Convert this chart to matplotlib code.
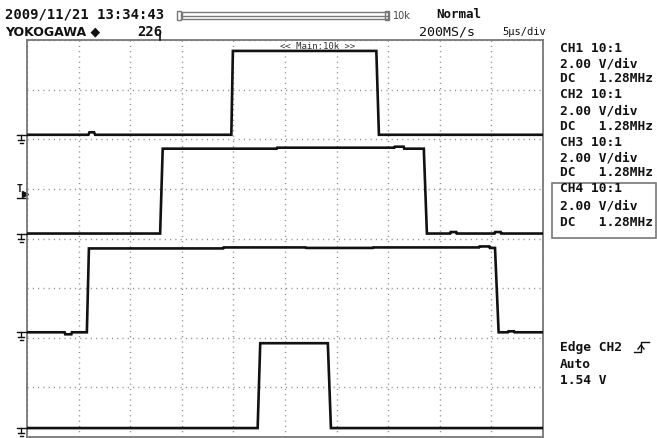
import matplotlib
import numpy as np

matplotlib.use("Agg")
import matplotlib.pyplot as plt
from matplotlib.lines import Line2D
from matplotlib.patches import Rectangle

W, H = 657, 438

# time axis: 5 us/div, 10 div ; vertical axis in divisions (8 div)
T_SPAN = 50.0
N_DIV_Y = 8

# traces as breakpoints (time in us, level in div from bottom)
ch1_t = [0, 5.95, 6.05, 6.5, 6.6, 19.8, 19.95, 33.85, 34.1, 50]
ch1_v = [6.09, 6.09, 6.14, 6.14, 6.09, 6.09, 7.78, 7.78, 6.09, 6.09]

ch2_t = [0, 12.9, 13.15, 24.2, 24.25, 35.6, 35.65, 36.5, 36.55, 38.45, 38.75,
         41.0, 41.05, 41.6, 41.65, 45.3, 45.35, 45.9, 45.95, 50]
ch2_v = [4.10, 4.10, 5.81, 5.81, 5.83, 5.83, 5.85, 5.85, 5.81, 5.81, 4.10,
         4.10, 4.13, 4.13, 4.10, 4.10, 4.13, 4.13, 4.10, 4.10]

ch3_t = [0, 3.65, 3.7, 4.3, 4.35, 5.8, 6.0, 19.0, 19.05, 27.0, 27.05, 33.5, 33.55,
         43.8, 43.85, 44.8, 44.85, 45.35, 45.7, 46.6, 46.65, 47.2, 47.25, 50]
ch3_v = [2.11, 2.11, 2.07, 2.07, 2.11, 2.11, 3.80, 3.80, 3.82, 3.82, 3.81, 3.81, 3.82,
         3.82, 3.84, 3.84, 3.81, 3.81, 2.11, 2.11, 2.13, 2.13, 2.11, 2.11]

ch4_t = [0, 22.35, 22.6, 29.15, 29.45, 50]
ch4_v = [0.18, 0.18, 1.89, 1.89, 0.18, 0.18]

ground_levels = [6.09, 4.10, 2.11, 0.18]
trig_level = 4.95

header_date = "2009/11/21 13:34:43"
maker = "YOKOGAWA \u25c6"
record_no = "226"
trig_mode = "Normal"
sample_rate = "200MS/s"
timebase = "5\u03bcs/div"
zoom_label = "<< Main:10k >>"
panel_lines = [
    "CH1 10:1", "2.00 V/div", "DC   1.28MHz",
    "CH2 10:1", "2.00 V/div", "DC   1.28MHz",
    "CH3 10:1", "2.00 V/div", "DC   1.28MHz",
    "CH4 10:1", "2.00 V/div", "DC   1.28MHz",
]
panel_y = [48, 64, 79, 95, 111, 127, 142, 158, 173, 189, 206, 222]
trig_lines = ["Edge CH2", "Auto", "1.54 V"]
trig_y = [348, 365, 380]

MONO = "DejaVu Sans Mono"
INK = "#111111"
GRAY = "#777777"


def fx(x):
    return x / W


def fy(y):
    return 1 - y / H


fig = plt.figure(figsize=(W / 100, H / 100), dpi=100)
fig.patch.set_facecolor("white")

left, right, top, bottom = 27, 543, 40, 437
ax = fig.add_axes([fx(left), fy(bottom), (right - left) / W, (bottom - top) / H])
ax.set_xlim(0, T_SPAN)
ax.set_ylim(0, N_DIV_Y)
ax.set_xticks(np.arange(0, T_SPAN + 1, 5))
ax.set_yticks(np.arange(0, N_DIV_Y + 1, 1))
ax.tick_params(length=0, labelbottom=False, labelleft=False)
ax.grid(True, color="#8a8a8a", linestyle=(0, (0.8, 3.0)), linewidth=1.0)
for s in ax.spines.values():
    s.set_color(GRAY)
    s.set_linewidth(1.3)

for t, v in [(ch1_t, ch1_v), (ch2_t, ch2_v), (ch3_t, ch3_v), (ch4_t, ch4_v)]:
    ax.plot(t, v, color=INK, lw=1.9, solid_joinstyle="miter", zorder=5)

ax.text(24.5, 7.87, zoom_label, fontsize=6.5, family=MONO, color="#333333",
        ha="left", va="center", zorder=3)

# ground markers on the left edge
px = 5 / 51.6
d = 1 / 49.6
for g in ground_levels:
    kw = dict(color=INK, lw=1.0, clip_on=False, zorder=6)
    ax.plot([-10 * px, 0], [g, g], **kw)
    ax.plot([-6 * px, -6 * px], [g, g - 5 * d], **kw)
    ax.plot([-9 * px, -3 * px], [g - 5 * d, g - 5 * d], **kw)
    ax.plot([-7.5 * px, -4.5 * px], [g - 8 * d, g - 8 * d], **kw)

# trigger level marker
ax.text(-7 * px, trig_level + 0.05, "T", fontsize=7, family=MONO, fontweight="bold",
        ha="center", va="center", color=INK, clip_on=False)
ax.plot([-2.5 * px], [trig_level - 0.06], marker=">", ms=4, color=INK, clip_on=False)
ax.plot([-10 * px, 0], [trig_level - 0.14, trig_level - 0.14], color=INK, lw=1.0, clip_on=False)

# header
fig.text(fx(5), fy(15), header_date, fontsize=10, family=MONO, fontweight="bold",
         color=INK, va="center", ha="left")
fig.text(fx(5), fy(32), maker, fontsize=9, family="DejaVu Sans", fontweight="bold",
         color=INK, va="center", ha="left")
fig.text(fx(137), fy(32), record_no, fontsize=10, family=MONO, fontweight="bold",
         color=INK, va="center", ha="left")
fig.add_artist(Line2D([fx(160), fx(160)], [fy(34), fy(40)], color=INK, lw=1.2))

# record bar
fig.add_artist(Rectangle((fx(182), fy(19)), (388 - 182) / W, 7 / H, fill=False,
                         edgecolor=GRAY, lw=1.0))
fig.add_artist(Line2D([fx(182), fx(388)], [fy(15.5), fy(15.5)], color=GRAY, lw=1.0))
for bx in (177, 385):
    fig.add_artist(Rectangle((fx(bx), fy(20)), 4 / W, 9 / H, fill=False,
                             edgecolor=GRAY, lw=1.0))
fig.text(fx(393), fy(16), "10k", fontsize=7, family="DejaVu Sans", color="#444444",
         va="center", ha="left")

fig.text(fx(436), fy(15), trig_mode, fontsize=9, family=MONO, fontweight="bold",
         color=INK, va="center", ha="left")
fig.text(fx(419), fy(32), sample_rate, fontsize=9.5, family=MONO,
         color=INK, va="center", ha="left")
fig.text(fx(502), fy(32), timebase, fontsize=7.5, family=MONO,
         color=INK, va="center", ha="left")

# right panel
for txt, yy in zip(panel_lines, panel_y):
    fig.text(fx(560), fy(yy), txt, fontsize=9.3, family=MONO, fontweight="bold",
             color=INK, va="center", ha="left")
fig.add_artist(Rectangle((fx(552), fy(238)), (656 - 552) / W, (238 - 183) / H,
                         fill=False, edgecolor=GRAY, lw=1.2))

for txt, yy in zip(trig_lines, trig_y):
    fig.text(fx(560), fy(yy), txt, fontsize=9.3, family=MONO, fontweight="bold",
             color=INK, va="center", ha="left")
# rising edge symbol
fig.add_artist(Line2D([fx(634), fx(641), fx(641), fx(649)],
                      [fy(352), fy(352), fy(342), fy(342)], color=INK, lw=1.0))
fig.add_artist(Line2D([fx(638), fx(641), fx(644)], [fy(349), fy(345), fy(349)],
                      color=INK, lw=1.0))

fig.savefig("out.png", dpi=100)
